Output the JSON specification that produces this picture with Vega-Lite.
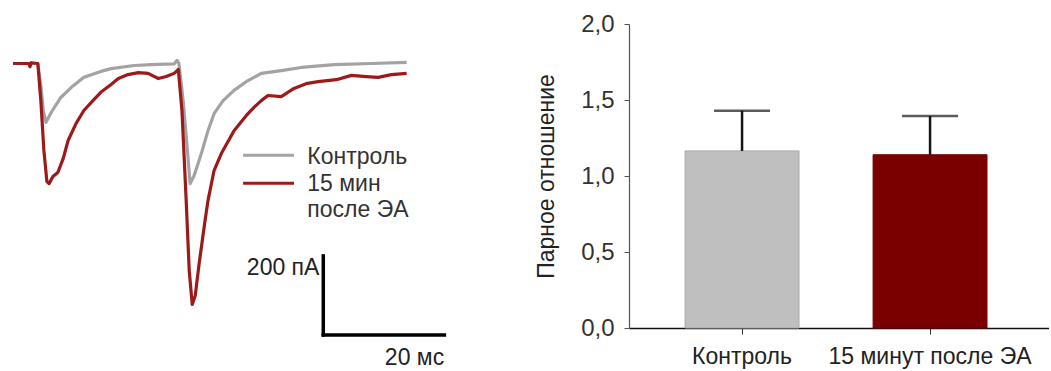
{
  "$schema": "https://vega.github.io/schema/vega-lite/v6.json",
  "background": "white",
  "padding": {"left": 11, "top": 12, "right": 0, "bottom": 0},
  "bounds": "flush",
  "spacing": 180,
  "config": {
    "view": {"stroke": null},
    "font": "Liberation Sans",
    "text": {"font": "Liberation Sans"}
  },
  "resolve": {"scale": {"color": "independent"}},
  "datasets": {
    "traces": [
      {"series": "Контроль", "t": 0, "I": 0},
      {"series": "Контроль", "t": 4.1, "I": 0},
      {"series": "Контроль", "t": 4.6, "I": -56},
      {"series": "Контроль", "t": 5.0, "I": -119},
      {"series": "Контроль", "t": 5.45, "I": -149},
      {"series": "Контроль", "t": 6.3, "I": -124},
      {"series": "Контроль", "t": 7.9, "I": -86},
      {"series": "Контроль", "t": 9.6, "I": -61},
      {"series": "Контроль", "t": 11.7, "I": -35},
      {"series": "Контроль", "t": 14.5, "I": -20},
      {"series": "Контроль", "t": 16.2, "I": -13},
      {"series": "Контроль", "t": 20.0, "I": -5},
      {"series": "Контроль", "t": 22.8, "I": -3},
      {"series": "Контроль", "t": 26.6, "I": -1},
      {"series": "Контроль", "t": 27.1, "I": 8},
      {"series": "Контроль", "t": 27.4, "I": 0},
      {"series": "Контроль", "t": 28.1, "I": -94},
      {"series": "Контроль", "t": 28.8, "I": -220},
      {"series": "Контроль", "t": 29.25, "I": -304},
      {"series": "Контроль", "t": 29.9, "I": -284},
      {"series": "Контроль", "t": 31.1, "I": -228},
      {"series": "Контроль", "t": 32.2, "I": -170},
      {"series": "Контроль", "t": 33.2, "I": -127},
      {"series": "Контроль", "t": 34.7, "I": -94},
      {"series": "Контроль", "t": 36.5, "I": -68},
      {"series": "Контроль", "t": 38.5, "I": -46},
      {"series": "Контроль", "t": 41.0, "I": -25},
      {"series": "Контроль", "t": 44.3, "I": -18},
      {"series": "Контроль", "t": 47.6, "I": -10},
      {"series": "Контроль", "t": 53.1, "I": -3},
      {"series": "Контроль", "t": 59.2, "I": 0},
      {"series": "Контроль", "t": 65.0, "I": 3},
      {"series": "15 мин после ЭА", "t": 0, "I": 0},
      {"series": "15 мин после ЭА", "t": 2.6, "I": 0},
      {"series": "15 мин после ЭА", "t": 2.8, "I": -8},
      {"series": "15 мин после ЭА", "t": 3.0, "I": 2},
      {"series": "15 мин после ЭА", "t": 4.1, "I": 0},
      {"series": "15 мин после ЭА", "t": 4.6, "I": -94},
      {"series": "15 мин после ЭА", "t": 5.1, "I": -220},
      {"series": "15 мин после ЭА", "t": 5.6, "I": -299},
      {"series": "15 мин после ЭА", "t": 5.95, "I": -304},
      {"series": "15 мин после ЭА", "t": 6.6, "I": -286},
      {"series": "15 мин после ЭА", "t": 7.4, "I": -276},
      {"series": "15 мин после ЭА", "t": 8.3, "I": -240},
      {"series": "15 мин после ЭА", "t": 9.1, "I": -195},
      {"series": "15 мин после ЭА", "t": 10.4, "I": -152},
      {"series": "15 мин после ЭА", "t": 11.7, "I": -119},
      {"series": "15 мин после ЭА", "t": 13.2, "I": -94},
      {"series": "15 мин после ЭА", "t": 14.5, "I": -73},
      {"series": "15 мин после ЭА", "t": 16.2, "I": -53},
      {"series": "15 мин после ЭА", "t": 17.4, "I": -38},
      {"series": "15 мин после ЭА", "t": 19.0, "I": -28},
      {"series": "15 мин после ЭА", "t": 20.7, "I": -23},
      {"series": "15 мин после ЭА", "t": 22.3, "I": -25},
      {"series": "15 мин после ЭА", "t": 24.0, "I": -38},
      {"series": "15 мин после ЭА", "t": 25.3, "I": -33},
      {"series": "15 мин после ЭА", "t": 26.6, "I": -25},
      {"series": "15 мин после ЭА", "t": 27.1, "I": -18},
      {"series": "15 мин после ЭА", "t": 27.3, "I": -15},
      {"series": "15 мин после ЭА", "t": 27.9, "I": -119},
      {"series": "15 мин после ЭА", "t": 28.6, "I": -347},
      {"series": "15 мин после ЭА", "t": 29.1, "I": -524},
      {"series": "15 мин после ЭА", "t": 29.6, "I": -610},
      {"series": "15 мин после ЭА", "t": 30.1, "I": -587},
      {"series": "15 мин после ЭА", "t": 30.7, "I": -511},
      {"series": "15 мин после ЭА", "t": 31.6, "I": -410},
      {"series": "15 мин после ЭА", "t": 32.2, "I": -347},
      {"series": "15 мин после ЭА", "t": 33.2, "I": -271},
      {"series": "15 мин после ЭА", "t": 34.4, "I": -228},
      {"series": "15 мин после ЭА", "t": 36.5, "I": -170},
      {"series": "15 мин после ЭА", "t": 38.5, "I": -132},
      {"series": "15 мин после ЭА", "t": 39.8, "I": -111},
      {"series": "15 мин после ЭА", "t": 41.0, "I": -94},
      {"series": "15 мин после ЭА", "t": 42.1, "I": -81},
      {"series": "15 мин после ЭА", "t": 44.3, "I": -84},
      {"series": "15 мин после ЭА", "t": 46.4, "I": -63},
      {"series": "15 мин после ЭА", "t": 48.4, "I": -51},
      {"series": "15 мин после ЭА", "t": 50.4, "I": -46},
      {"series": "15 мин после ЭА", "t": 53.4, "I": -41},
      {"series": "15 мин после ЭА", "t": 55.9, "I": -30},
      {"series": "15 мин после ЭА", "t": 58.3, "I": -33},
      {"series": "15 мин после ЭА", "t": 60.3, "I": -35},
      {"series": "15 мин после ЭА", "t": 62.5, "I": -28},
      {"series": "15 мин после ЭА", "t": 65.0, "I": -25}
    ],
    "legendLines": [
      {"series": "Контроль", "t0": 38.0, "t1": 46.4, "I": -232},
      {"series": "15 мин после ЭА", "t0": 38.0, "t1": 46.4, "I": -303}
    ],
    "legendText": [
      {"label": "Контроль", "t": 48.6, "I": -236},
      {"label": "15 мин", "t": 48.6, "I": -305},
      {"label": "после ЭА", "t": 48.6, "I": -371}
    ],
    "scalebar": [
      {"t0": 51.24, "t1": 51.24, "I0": -487, "I1": -687},
      {"t0": 51.24, "t1": 71.24, "I0": -687, "I1": -687}
    ],
    "scaleText": [
      {"label": "200 пА", "t": 50.6, "I": -518},
      {"label": "20 мс", "t": 71.2, "I": -746}
    ],
    "bars": [
      {"group": "Контроль", "mean": 1.165, "upper": 1.43},
      {"group": "15 минут после ЭА", "mean": 1.14, "upper": 1.395}
    ]
  },
  "hconcat": [
    {
      "width": 436,
      "height": 320,
      "layer": [
        {
          "data": {"name": "traces"},
          "mark": {"type": "line", "strokeWidth": 3.2, "strokeJoin": "round"},
          "encoding": {
            "x": {"field": "t", "type": "quantitative", "scale": {"domain": [0, 72], "nice": false, "zero": false}, "axis": null},
            "y": {"field": "I", "type": "quantitative", "scale": {"domain": [-710, 100], "nice": false, "zero": false}, "axis": null},
            "color": {"field": "series", "type": "nominal", "scale": {"domain": ["Контроль", "15 мин после ЭА"], "range": ["#a3a3a3", "#9c1a1a"]}, "legend": null},
            "order": {"field": "t", "type": "quantitative"}
          }
        },
        {
          "data": {"name": "legendLines"},
          "mark": {"type": "rule", "strokeWidth": 3},
          "encoding": {
            "x": {"field": "t0", "type": "quantitative", "axis": null},
            "x2": {"field": "t1"},
            "y": {"field": "I", "type": "quantitative", "axis": null},
            "color": {"field": "series", "type": "nominal", "legend": null}
          }
        },
        {
          "data": {"name": "legendText"},
          "mark": {"type": "text", "align": "left", "baseline": "middle", "fontSize": 23, "color": "#333333"},
          "encoding": {
            "x": {"field": "t", "type": "quantitative", "axis": null},
            "y": {"field": "I", "type": "quantitative", "axis": null},
            "text": {"field": "label"}
          }
        },
        {
          "data": {"name": "scalebar"},
          "mark": {"type": "rule", "strokeWidth": 3.5, "color": "#000000", "strokeCap": "square"},
          "encoding": {
            "x": {"field": "t0", "type": "quantitative", "axis": null},
            "x2": {"field": "t1"},
            "y": {"field": "I0", "type": "quantitative", "axis": null},
            "y2": {"field": "I1"}
          }
        },
        {
          "data": {"name": "scaleText"},
          "mark": {"type": "text", "align": "right", "baseline": "middle", "fontSize": 23, "color": "#222222"},
          "encoding": {
            "x": {"field": "t", "type": "quantitative", "axis": null},
            "y": {"field": "I", "type": "quantitative", "axis": null},
            "text": {"field": "label"}
          }
        }
      ]
    },
    {
      "width": 420,
      "height": 304,
      "data": {"name": "bars"},
      "layer": [
        {
          "mark": {"type": "bar", "strokeWidth": 1},
          "encoding": {
            "x": {
              "field": "group", "type": "nominal", "sort": null,
              "scale": {"paddingInner": 0.394, "paddingOuter": 0.314, "align": 0.475},
              "axis": {"title": null, "labelAngle": 0, "labelFontSize": 23, "labelLimit": 0, "labelColor": "#222222", "labelPadding": 11, "tickSize": 6, "tickColor": "#333333", "domainColor": "#111111", "domainWidth": 1.6, "tickWidth": 1}
            },
            "y": {
              "field": "mean", "type": "quantitative",
              "scale": {"domain": [0, 2], "nice": false},
              "axis": {
                "title": "Парное отношение", "titleFontSize": 23, "titleFontWeight": "normal", "titleColor": "#222222", "titlePadding": 22,
                "values": [0, 0.5, 1, 1.5, 2],
                "labelExpr": "replace(format(datum.value, '.1f'), '.', ',')",
                "labelFontSize": 24, "labelColor": "#333333", "labelPadding": 10,
                "tickSize": 5, "tickColor": "#555555", "domainColor": "#555555", "domainWidth": 1.2, "grid": false
              }
            },
            "fill": {"field": "group", "type": "nominal", "scale": {"domain": ["Контроль", "15 минут после ЭА"], "range": ["#bfbfbf", "#7a0000"]}, "legend": null},
            "stroke": {"field": "group", "type": "nominal", "scale": {"domain": ["Контроль", "15 минут после ЭА"], "range": ["#a9a9a9", "#7a0000"]}, "legend": null}
          }
        },
        {
          "mark": {"type": "rule", "strokeWidth": 2.5, "color": "#151515"},
          "encoding": {
            "x": {"field": "group", "type": "nominal", "sort": null},
            "y": {"field": "mean", "type": "quantitative"},
            "y2": {"field": "upper"}
          }
        },
        {
          "mark": {"type": "tick", "orient": "horizontal", "size": 56, "thickness": 2.5, "color": "#151515"},
          "encoding": {
            "x": {"field": "group", "type": "nominal", "sort": null},
            "y": {"field": "upper", "type": "quantitative"}
          }
        }
      ]
    }
  ]
}
